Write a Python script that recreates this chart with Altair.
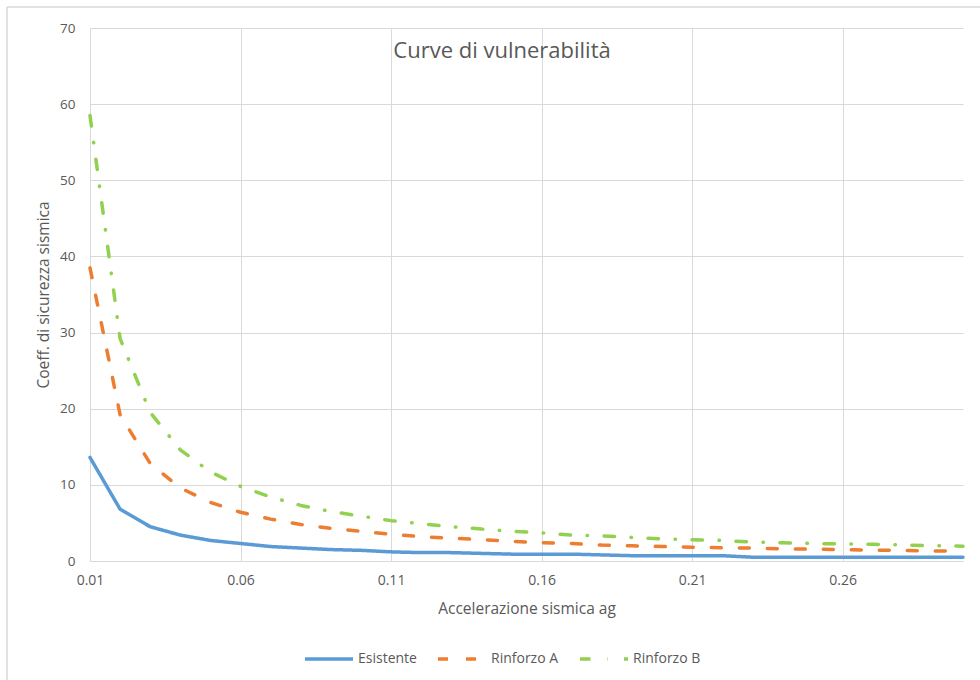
import altair as alt
import pandas as pd

# Seismic acceleration ag (categories on the horizontal axis)
ag = [0.01, 0.02, 0.03, 0.04, 0.05, 0.06, 0.07, 0.08, 0.09, 0.10,
      0.11, 0.12, 0.13, 0.14, 0.15, 0.16, 0.17, 0.18, 0.19, 0.20,
      0.21, 0.22, 0.23, 0.24, 0.25, 0.26, 0.27, 0.28, 0.29, 0.30]

# Seismic safety coefficient for each configuration
esistente = [13.6, 6.8, 4.5, 3.4, 2.7, 2.3, 1.9, 1.7, 1.5, 1.4,
             1.2, 1.1, 1.1, 1.0, 0.9, 0.9, 0.9, 0.8, 0.7, 0.7,
             0.7, 0.7, 0.5, 0.5, 0.5, 0.5, 0.5, 0.5, 0.5, 0.5]
rinforzo_a = [38.5, 19.2, 12.8, 9.6, 7.7, 6.4, 5.5, 4.8, 4.3, 3.9,
              3.5, 3.2, 3.0, 2.8, 2.6, 2.4, 2.3, 2.1, 2.0, 1.9,
              1.8, 1.75, 1.7, 1.6, 1.55, 1.5, 1.4, 1.4, 1.3, 1.3]
rinforzo_b = [58.5, 29.2, 19.5, 14.6, 11.7, 9.8, 8.4, 7.3, 6.5, 5.9,
              5.3, 4.9, 4.5, 4.2, 3.9, 3.7, 3.4, 3.3, 3.1, 2.9,
              2.8, 2.7, 2.5, 2.4, 2.3, 2.25, 2.2, 2.1, 2.0, 1.95]

series_names = ["Esistente", "Rinforzo A", "Rinforzo B"]
series_colors = ["#5B9BD5", "#ED7D31", "#92D050"]
series_dashes = [[1, 0], [10, 18], [10.5, 16.5, 0.5, 16.5]]

x_ticks = [0.01, 0.06, 0.11, 0.16, 0.21, 0.26]
y_ticks = [0, 10, 20, 30, 40, 50, 60, 70]

chart_title = "Curve di vulnerabilità"
x_title = "Accelerazione sismica ag"
y_title = "Coeff. di sicurezza sismica"

rows = []
for name, values in zip(series_names, [esistente, rinforzo_a, rinforzo_b]):
    for i, (a, v) in enumerate(zip(ag, values)):
        rows.append({"ag": a, "coeff": v, "serie": name, "ord": i})
df = pd.DataFrame(rows)

FONT = "Open Sans"
TXT = "#595959"
GRID = "#d9d9d9"


def series_legend():
    return alt.Legend(title=None, orient="none", direction="horizontal",
                      legendX=213, legendY=605,
                      symbolType="stroke", symbolSize=2304,
                      symbolStrokeWidth=3.5,
                      labelFontSize=14, labelColor=TXT, labelFont=FONT,
                      labelOffset=3, columnPadding=14)


lines = alt.Chart(df).mark_line(strokeWidth=3.5, strokeCap="round", strokeJoin="round").encode(
    x=alt.X("ag:Q",
            scale=alt.Scale(domain=[0.01, 0.30], nice=False, zero=False),
            axis=alt.Axis(values=x_ticks, format=".2f", title=x_title,
                          grid=True, gridColor=GRID, ticks=False,
                          domainColor=GRID, domainWidth=1,
                          labelFlush=False,
                          labelPadding=12, titlePadding=14,
                          labelFontSize=14, titleFontSize=15.5,
                          titleFontWeight="normal")),
    y=alt.Y("coeff:Q",
            scale=alt.Scale(domain=[0, 70], nice=False),
            axis=alt.Axis(values=y_ticks, title=y_title,
                          grid=True, gridColor=GRID, ticks=False,
                          domain=False,
                          labelPadding=15, titlePadding=8,
                          labelFontSize=13.5, titleFontSize=15.5,
                          titleFontWeight="normal")),
    color=alt.Color("serie:N",
                    scale=alt.Scale(domain=series_names, range=series_colors),
                    legend=series_legend()),
    strokeDash=alt.StrokeDash("serie:N",
                              scale=alt.Scale(domain=series_names, range=series_dashes),
                              legend=series_legend()),
    order="ord:Q",
)

one = pd.DataFrame({"t": [chart_title]})

title_text = alt.Chart(one).mark_text(
    font=FONT, fontSize=22, color=TXT, align="center", baseline="alphabetic"
).encode(x=alt.value(412), y=alt.value(30), text="t:N")

# Outer frame: top and left edges of the chart border
frame_top = alt.Chart(one).mark_rule(color=GRID, strokeWidth=1.5).encode(
    x=alt.value(-83), x2=alt.value(890), y=alt.value(-21))
frame_left = alt.Chart(one).mark_rule(color=GRID, strokeWidth=1.5).encode(
    x=alt.value(-83), y=alt.value(-21), y2=alt.value(652))

chart = alt.layer(frame_top, frame_left, lines, title_text).properties(
    width=873, height=533,
    autosize=alt.AutoSizeParams(type="none"),
    padding={"left": 90, "top": 28, "right": 17, "bottom": 119},
    background="white",
).configure_view(stroke="transparent").configure_axis(
    labelFont=FONT, titleFont=FONT, labelColor=TXT, titleColor=TXT
)

chart.save("out.html", embed_options={"renderer": "svg", "actions": False})
